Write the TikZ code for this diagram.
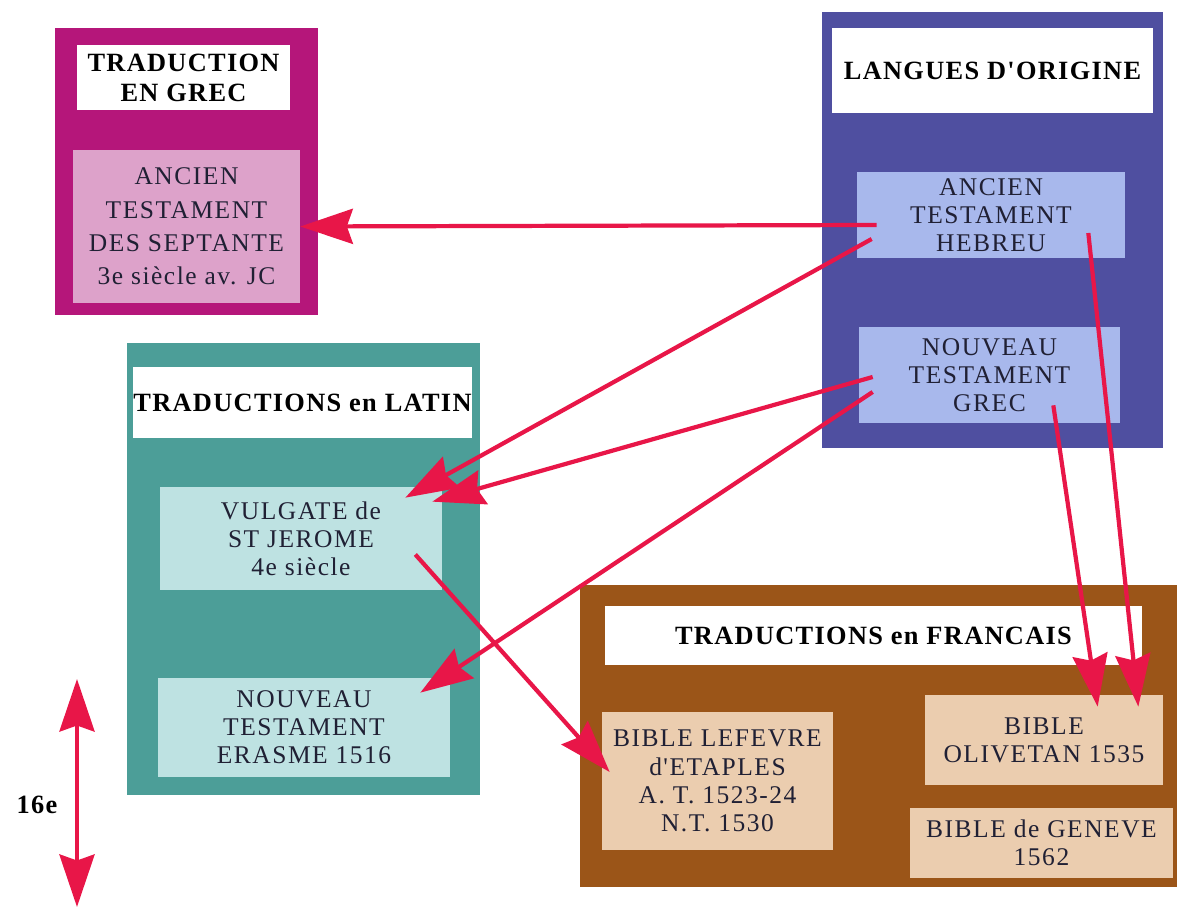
\documentclass[tikz,border=0pt]{standalone}
\usepackage{fontspec}
\setmainfont{Liberation Serif}
\newfontfamily\espacecorps[LetterSpace=6]{Liberation Serif}
\newfontfamily\espacetitre[LetterSpace=5]{Liberation Serif}
\usepackage{tikz}
\usetikzlibrary{arrows.meta,calc}
\definecolor{violet1}{RGB}{181,22,122}
\definecolor{rose1}{RGB}{221,162,202}
\definecolor{bleu1}{RGB}{79,79,160}
\definecolor{bleu2}{RGB}{168,184,236}
\definecolor{vert1}{RGB}{76,158,152}
\definecolor{vert2}{RGB}{190,226,226}
\definecolor{brun1}{RGB}{155,85,24}
\definecolor{brun2}{RGB}{235,205,175}
\definecolor{rouge1}{RGB}{232,22,72}
\definecolor{encre}{RGB}{32,32,52}
\newcommand\fontcorps{\espacecorps\fontsize{14.5}{16}\selectfont}
\newcommand\fonttitre{\espacetitre\bfseries\fontsize{15}{17}\selectfont}

\begin{document}
\begin{tikzpicture}[x=0.02cm,y=-0.02cm,
    >={Stealth[length=1.05cm,width=0.7cm,inset=0.12cm]},
    cadre/.style={fill=#1,inner sep=0pt},
    boite/.style={fill=#1,inner sep=0pt,align=center,font=\fontcorps,text=encre},
    titre/.style={fill=white,inner sep=0pt,align=center,font=\fonttitre},
    fleche/.style={draw=rouge1,line width=2.4pt,->}]
    \useasboundingbox (0,0) rectangle (1177,908);
    %Traduction en grec
    \node[cadre=violet1,minimum width=5.26cm,minimum height=5.74cm] (grec) at (186.5,171.5) {};
    \node[titre,minimum width=4.26cm,minimum height=1.30cm] (grectitre) at (183.5,77.5) {TRADUCTION\\EN GREC};
    \node[boite=rose1,minimum width=4.54cm,minimum height=3.06cm] (septante) at (186.5,226.5)
        {ANCIEN\\[3pt]TESTAMENT\\[3pt]DES SEPTANTE\\[3pt]3e siècle av. JC};
    %Langues d'origine
    \node[cadre=bleu1,minimum width=6.82cm,minimum height=8.72cm] (origine) at (992.5,230) {};
    \node[titre,minimum width=6.42cm,minimum height=1.70cm] (originetitre) at (992.5,70.5) {LANGUES D'ORIGINE};
    \node[boite=bleu2,minimum width=5.36cm,minimum height=1.72cm] (hebreu) at (991,215)
        {ANCIEN\\TESTAMENT\\HEBREU};
    \node[boite=bleu2,minimum width=5.22cm,minimum height=1.92cm] (ntgrec) at (989.5,375)
        {NOUVEAU\\TESTAMENT\\GREC};
    %Traductions en latin
    \node[cadre=vert1,minimum width=7.06cm,minimum height=9.04cm] (latin) at (303.5,569) {};
    \node[titre,minimum width=6.70cm,minimum height=1.42cm] (latintitre) at (302.5,402.5) {TRADUCTIONS en LATIN};
    \node[boite=vert2,minimum width=5.64cm,minimum height=2.06cm] (vulgate) at (301,538.5)
        {VULGATE de\\ST JEROME\\4e siècle};
    \node[boite=vert2,minimum width=5.84cm,minimum height=1.98cm] (erasme) at (304,727.5)
        {NOUVEAU\\TESTAMENT\\ERASME 1516};
    %Traductions en francais
    \node[cadre=brun1,minimum width=11.94cm,minimum height=6.04cm] (francais) at (878.5,736) {};
    \node[titre,minimum width=10.74cm,minimum height=1.18cm] (francaistitre) at (873.5,635.5) {TRADUCTIONS en FRANCAIS};
    \node[boite=brun2,minimum width=4.62cm,minimum height=2.76cm] (lefevre) at (717.5,781)
        {BIBLE LEFEVRE\\d'ETAPLES\\A. T. 1523-24\\N.T. 1530};
    \node[boite=brun2,minimum width=4.76cm,minimum height=1.80cm] (olivetan) at (1044,740)
        {BIBLE\\OLIVETAN 1535};
    \node[boite=brun2,minimum width=5.26cm,minimum height=1.40cm] (geneve) at (1041.5,843)
        {BIBLE de GENEVE\\1562};
    %Siecle
    \node[font=\fonttitre] (siecle) at (37,805) {16e};
    \coordinate (haut) at (77,679);
    \coordinate (bas) at (77,907);
    %Fleches
    \draw[fleche] ($(hebreu.west)+(20,10)$) -- (septante.east);
    \draw[fleche] ($(hebreu.west)+(15,24)$) -- ($(vulgate.north east)+(-37,11)$);
    \draw[fleche] ($(ntgrec.west)+(14,2)$) -- ($(vulgate.north east)+(-10,15)$);
    \draw[fleche] ($(ntgrec.west)+(14,17)$) -- ($(erasme.north east)+(-30,15)$);
    \draw[fleche] ($(vulgate.east)+(-27,16)$) -- ($(lefevre.west)+(8,-9)$);
    \draw[fleche] ($(ntgrec.south east)+(-67,-18)$) -- ($(olivetan.north west)+(173,12)$);
    \draw[fleche] ($(hebreu.east)+(-37,18)$) -- ($(olivetan.north east)+(-25,12)$);
    \draw[fleche,<->] (haut) -- (bas);
\end{tikzpicture}
\end{document}
